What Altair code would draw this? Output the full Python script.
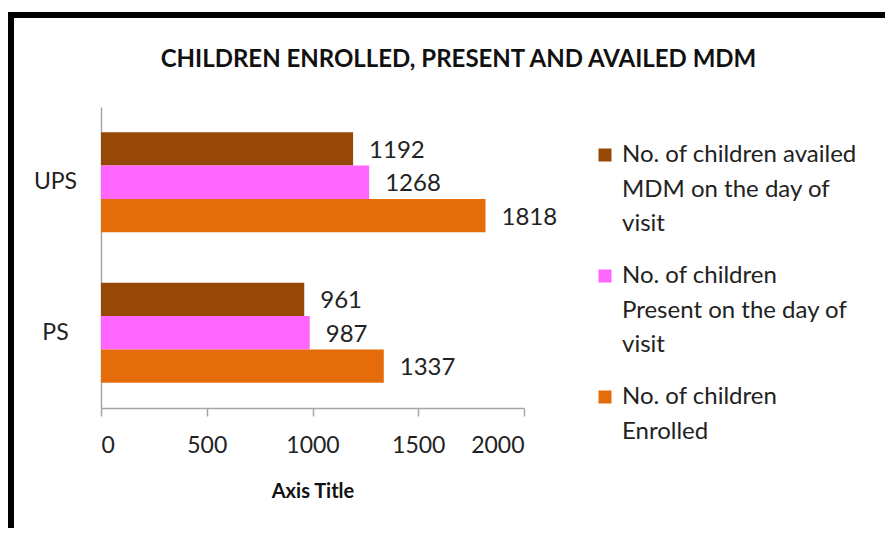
import altair as alt
import pandas as pd

categories = ["UPS", "PS"]
series = [
    "No. of children availed MDM on the day of visit",
    "No. of children Present on the day of visit",
    "No. of children Enrolled",
]
legend_lines = [
    ["No. of children availed", "MDM on the day of", "visit"],
    ["No. of children", "Present on the day of", "visit"],
    ["No. of children", "Enrolled"],
]
availed = [1192, 961]
present = [1268, 987]
enrolled = [1818, 1337]
colors = ["#974706", "#FF66FF", "#E46C0A"]
x_ticks = [0, 500, 1000, 1500, 2000]

rows = []
for i, c in enumerate(categories):
    for s, vals in zip(series, [availed, present, enrolled]):
        rows.append({"cat": c, "series": s, "value": vals[i]})
df = pd.DataFrame(rows)

FONT = "Lato"

def arr(lines):
    return "[" + ",".join("'" + l + "'" for l in lines) + "]"

label_expr = ""
for s, lines in zip(series[:-1], legend_lines[:-1]):
    label_expr += f"datum.label == '{s}' ? {arr(lines)} : "
label_expr += arr(legend_lines[-1])

y_enc = alt.Y("cat:N", sort=categories,
              scale=alt.Scale(paddingInner=0.335, paddingOuter=0.1675),
              axis=alt.Axis(title=None, ticks=False, tickSize=0, labelAlign="center",
                            labelPadding=46, labelFont=FONT, labelFontSize=23,
                            labelColor="#222222", domainColor="#a6a6a6", domainWidth=1.5,
                            grid=False))
yoff = alt.YOffset("series:N", sort=series)
x_enc = alt.X("value:Q", scale=alt.Scale(domain=[0, 2000]),
              axis=alt.Axis(values=x_ticks, format="d", title="Axis Title", grid=False,
                            tickSize=8, tickColor="#a6a6a6", tickWidth=1.5,
                            domainColor="#a6a6a6", domainWidth=1.5,
                            labelFont=FONT, labelFontSize=23, labelColor="#222222",
                            labelPadding=18, titleFont=FONT, titleFontSize=20,
                            titleFontWeight="bold", titleColor="#111111",
                            titlePadding=24))

bars = alt.Chart(df).mark_bar().encode(
    y=y_enc,
    yOffset=yoff,
    x=x_enc,
    color=alt.Color("series:N", sort=series,
                    scale=alt.Scale(domain=series, range=colors),
                    legend=alt.Legend(title=None, orient="none", legendX=492, legendY=36,
                                      symbolType="square", symbolSize=169,
                                      symbolStrokeWidth=0, labelFont=FONT,
                                      labelFontSize=24, labelColor="#222222",
                                      labelLimit=400, labelExpr=label_expr,
                                      rowPadding=28, labelOffset=5)),
)

labels = alt.Chart(df).mark_text(align="left", baseline="middle", dx=16, dy=2,
                                 font=FONT, fontSize=24, color="#222222").encode(
    y=alt.Y("cat:N", sort=categories),
    yOffset=yoff,
    x="value:Q",
    text="value:Q",
)

frame = alt.Chart(pd.DataFrame({"a": [0]})).mark_rect(
    fill=None, stroke="black", strokeWidth=6).encode(
    x=alt.value(-90), x2=alt.value(1200), y=alt.value(-92), y2=alt.value(1200))

chart = alt.layer(frame, bars, labels).properties(
    width=423, height=301,
    title=alt.TitleParams("CHILDREN ENROLLED, PRESENT AND AVAILED MDM",
                          font=FONT, fontSize=24, fontWeight="bold", color="#111111",
                          anchor="middle", dx=146, offset=0, dy=60),
    padding={"left": 93, "top": 99, "right": 361, "bottom": 120},
    autosize=alt.AutoSizeParams(type="none"),
).configure(
    background="white",
    view=alt.ViewConfig(stroke=None),
    style={"guide-label": {"lineHeight": 34.5}},
)

chart.save("out.html", embed_options={"renderer": "svg", "actions": False})
